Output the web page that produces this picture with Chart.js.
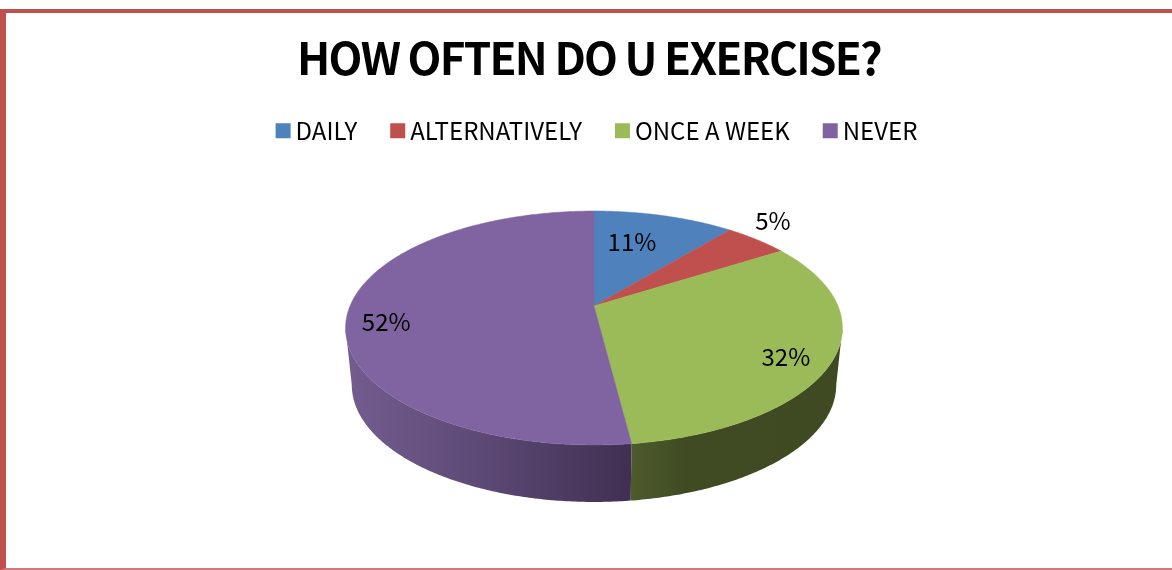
<!DOCTYPE html>
<html>
<head>
<meta charset="utf-8">
<title>How often do u exercise?</title>
<style>
  html, body { margin: 0; padding: 0; background: #fff; overflow: hidden; }
  #frame { position: absolute; left: 0; top: 9px; width: 1166px; height: 555px; border-left: 6px solid #c0504d; border-top: 4px solid #c0504d; border-bottom: 2px solid #d07a77; }
  canvas { position: absolute; left: 0; top: 0; }
</style>
</head>
<body>
<div id="frame"></div>
<canvas id="chart" width="1172" height="570"></canvas>
<script src="https://cdn.jsdelivr.net/npm/chart.js@4"></script>
<script>
const titleText = 'HOW OFTEN DO U EXERCISE?';
const categories = ['DAILY', 'ALTERNATIVELY', 'ONCE A WEEK', 'NEVER'];
const percentages = [11, 5, 32, 52];
const sliceColors = ['#4f81bd', '#c0504d', '#9bbb59', '#8064a2'];

// Where each percentage sits: distance from the hub (1 = rim) and degrees off the slice middle
const labelRadius = [0.66, 1.225, 0.836, 0.841];
const labelSkew = [-4.5, -4.4, 4.7, -5.8];

const FONT = '"Noto Sans CJK JP", sans-serif';

// Perspective of the tilted disc
const DISC_R = 244;
const HUB_Y = 306;
const TILT_A = 55.3;
const TILT_C = -0.188;
const DEPTH = 57;
const FOOT_SCALE = 0.975;

// theta is measured clockwise from 12 o'clock
function project(cx, theta, r) {
  const u = Math.sin(theta) * r;
  const v = -Math.cos(theta) * r;
  const d = 1 + TILT_C * v;
  return { x: cx + DISC_R * u / d, y: (TILT_A * v + HUB_Y) / d };
}

function sweep(ctx, cx, from, to, map) {
  const steps = Math.max(2, Math.ceil(Math.abs(to - from) / 0.01));
  for (let i = 0; i <= steps; i++) {
    const p = project(cx, from + (to - from) * i / steps, 1);
    const q = map ? map(p) : p;
    ctx.lineTo(q.x, q.y);
  }
}

// left to right on screen, by slice
const wallStops = {
  2: [[0, '#4e5b2c'], [0.25, '#404b24'], [1, '#3f4a23']],
  3: [[0, '#735d90'], [0.5, '#5c4874'], [1, '#402f52']],
};

const tiltedPie = {
  id: 'tiltedPie',
  afterLayout(chart) {
    const block = chart.titleBlock;
    // title sits a little left of the disc centre and runs tight
    block.left -= 5;
    block.right -= 5;
    const drawTitle = block.draw.bind(block);
    block.draw = () => {
      chart.ctx.save();
      chart.ctx.letterSpacing = '-1.7px';
      drawTitle();
      chart.ctx.restore();
    };
    // legend padding is shared with the item gaps, so move the row by hand
    chart.legend.left += 6;
    chart.legend.right += 6;
    chart.legend.top -= 6;
    chart.legend.bottom -= 6;
  },
  beforeDatasetsDraw(chart) {
    const ctx = chart.ctx;
    const arcs = chart.getDatasetMeta(0).data;
    const cx = arcs[0].x;
    const rightEdge = Math.acos(TILT_C);
    const leftEdge = 2 * Math.PI - rightEdge;
    const foot = (p) => ({ x: cx + (p.x - cx) * FOOT_SCALE, y: p.y + DEPTH });

    // side wall, only the slices that reach the front
    arcs.forEach((arc, i) => {
      const from = Math.max(arc.startAngle + Math.PI / 2, rightEdge);
      const to = Math.min(arc.endAngle + Math.PI / 2, leftEdge);
      if (to <= from) return;
      const a = project(cx, from, 1);
      const b = project(cx, to, 1);
      const grad = ctx.createLinearGradient(Math.min(a.x, b.x), 0, Math.max(a.x, b.x), 0);
      wallStops[i].forEach(([pos, col]) => grad.addColorStop(pos, col));
      ctx.beginPath();
      sweep(ctx, cx, from, to);
      sweep(ctx, cx, to, from, foot);
      ctx.closePath();
      ctx.fillStyle = grad;
      ctx.fill();
    });

    // top face
    arcs.forEach((arc, i) => {
      const hub = project(cx, 0, 0);
      ctx.beginPath();
      ctx.moveTo(hub.x, hub.y);
      sweep(ctx, cx, arc.startAngle + Math.PI / 2, arc.endAngle + Math.PI / 2);
      ctx.closePath();
      ctx.fillStyle = sliceColors[i];
      ctx.strokeStyle = sliceColors[i];
      ctx.lineWidth = 0.5;
      ctx.fill();
      ctx.stroke();
    });

    // percentages
    ctx.font = '24px ' + FONT;
    ctx.fillStyle = '#000';
    ctx.textAlign = 'center';
    ctx.textBaseline = 'middle';
    arcs.forEach((arc, i) => {
      const mid = (arc.startAngle + arc.endAngle) / 2 + Math.PI / 2;
      const p = project(cx, mid + labelSkew[i] * Math.PI / 180, labelRadius[i]);
      ctx.fillText(percentages[i] + '%', p.x, p.y);
    });
    return false;
  },
};

new Chart(document.getElementById('chart').getContext('2d'), {
  type: 'pie',
  data: {
    labels: categories,
    datasets: [{ data: percentages, backgroundColor: sliceColors, borderWidth: 0 }],
  },
  options: {
    responsive: false,
    animation: false,
    layout: { padding: { left: 16, top: 32 } },
    plugins: {
      tooltip: { enabled: false },
      title: {
        display: true,
        text: titleText,
        color: '#000',
        font: { family: FONT, size: 44, weight: 'bold' },
        padding: { top: 0, bottom: 0 },
      },
      legend: {
        position: 'top',
        labels: {
          color: '#000',
          font: { family: FONT, size: 24 },
          padding: 40,
          boxWidth: 1,
          boxHeight: 1,
          generateLabels: () => categories.map((text, i) => ({
            text,
            fillStyle: sliceColors[i],
            strokeStyle: sliceColors[i],
            lineWidth: 14,
            index: i,
          })),
        },
      },
    },
  },
  plugins: [tiltedPie],
});
</script>
</body>
</html>
